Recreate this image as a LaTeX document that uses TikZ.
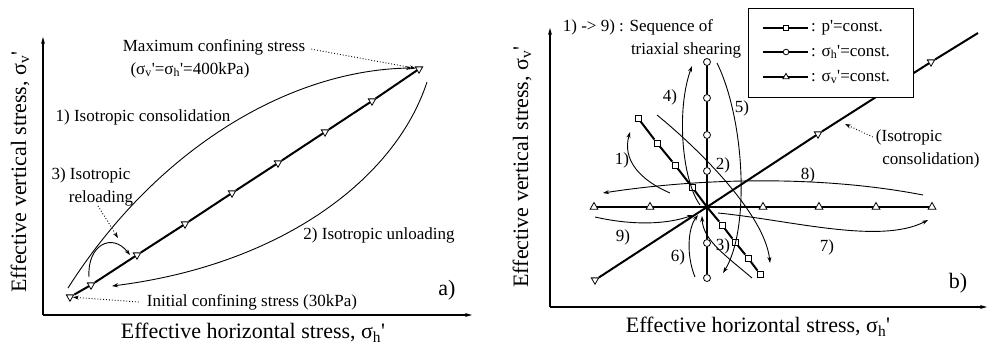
\documentclass[tikz,border=0pt]{standalone}
\usepackage{fontspec}
\setmainfont{Liberation Serif}
\usetikzlibrary{shapes.geometric, arrows.meta}
\newcommand{\sigv}{σ\textsubscript{v}\textquotesingle}
\newcommand{\sigh}{σ\textsubscript{h}\textquotesingle}
\newcommand{\bigtxt}{\fontsize{22}{26}\selectfont}
\newcommand{\smalltxt}{\fontsize{17}{20}\selectfont}
\tikzset{
  axisline/.style={line width=1.3pt, -{Stealth[length=7pt, width=4pt]}},
  mainline/.style={line width=2pt},
  legline/.style={line width=1.5pt},
  flow/.style={line width=0.9pt, -{Stealth[length=6pt, width=4pt]}},
  dotarrow/.style={line width=0.9pt, dotted, -{Stealth[length=6pt, width=4pt]}},
  tridown/.style={draw, fill=white, regular polygon, regular polygon sides=3, shape border rotate=180, minimum size=8.5pt, inner sep=0pt, line width=0.8pt},
  triup/.style={draw, fill=white, regular polygon, regular polygon sides=3, minimum size=9pt, inner sep=0pt, line width=0.8pt},
  circmark/.style={draw, fill=white, circle, minimum size=7pt, inner sep=0pt, line width=0.8pt},
  sqmark/.style={draw, fill=white, rectangle, minimum size=6pt, inner sep=0pt, line width=0.8pt}
}
\begin{document}
\begin{tikzpicture}[x=1pt, y=-1pt, every node/.style={font=\smalltxt, inner sep=0pt}]
\useasboundingbox (0,0) rectangle (988,349);

% a) isotropic loading path
\coordinate (ao) at (43,315);
\coordinate (ayend) at (43,37);
\coordinate (axend) at (472,315);
\draw[axisline] (ao) -- (ayend);
\draw[axisline] (ao) -- (axend);
\node[rotate=90, font=\bigtxt] (aylab) at (20,172) {Effective vertical stress, \sigv};
\node[font=\bigtxt] (axlab) at (253,333) {Effective horizontal stress, \sigh};

\foreach \x/\y [count=\i] in {70/297,91/285,137/255,185/224,232/193,278/163,325/132,372/101,419/69}
  \node[tridown] (a\i) at (\x,\y) {};
\foreach \i [remember=\i as \last (initially 1)] in {2,...,9}
  \draw[mainline] (a\last) -- (a\i);

\node (maxlbl) at (214,47) {Maximum confining stress};
\node (maxval) at (190,70) {(\sigv=\sigh=400kPa)};
\node (conslbl) at (143,117) {1) Isotropic consolidation};
\node (rel1) at (91,175) {3) Isotropic};
\node (rel2) at (101,198) {reloading};
\node (unlbl) at (379,235) {2) Isotropic unloading};
\node (initlbl) at (252,302) {Initial confining stress (30kPa)};
\node[font=\bigtxt] (alab) at (447,290) {a)};

\coordinate (cons0) at (68,288);
\coordinate (cons1) at (412,68);
\coordinate (unl0) at (427,82);
\coordinate (unl1) at (112,286);
\coordinate (rel0) at (89,277);
\coordinate (relend) at (130,255);
\coordinate (reltip) at (118,238);
\draw[flow] (cons0) .. controls (157,148) and (290,70) .. (cons1);
\draw[flow] (unl0) .. controls (395,180) and (280,265) .. (unl1);
\draw[flow] (rel0) .. controls (87,245) and (112,232) .. (relend);
\draw[dotarrow] ([xshift=-3pt]rel2.south) -- (reltip);
\draw[dotarrow] ([xshift=6pt, yshift=2pt]maxlbl.base east) -- (a9);
\draw[dotarrow] ([xshift=-8pt]initlbl.west) -- (a1);

% b) triaxial shearing paths
\coordinate (bo) at (550,307);
\coordinate (byend) at (550,28);
\coordinate (bxend) at (987,307);
\draw[axisline] (bo) -- (byend);
\draw[axisline] (bo) -- (bxend);
\node[rotate=90, font=\bigtxt] (bylab) at (522,167) {Effective vertical stress, \sigv};
\node[font=\bigtxt] (bxlab) at (758,327) {Effective horizontal stress, \sigh};

\coordinate (O) at (707,207);
\foreach \x [count=\i] in {594,650,763,819,876,932}
  \node[triup] (h\i) at (\x,207) {};
\foreach \y [count=\i] in {62,98,135,171,243,278}
  \node[circmark] (v\i) at (707,\y) {};
\foreach \x/\y [count=\i] in {638/118,657/143,675/165,692/187,722/225,735/242,748/258,760/274}
  \node[sqmark] (p\i) at (\x,\y) {};
\node[tridown] (d1) at (595,280) {};
\node[tridown] (d2) at (818,134) {};
\node[tridown] (d3) at (931,62) {};
\coordinate (dend) at (978,33);

\draw[mainline] (h1) -- (h2) -- (O) -- (h3) -- (h4) -- (h5) -- (h6);
\draw[mainline] (v1) -- (v2) -- (v3) -- (v4) -- (O) -- (v5) -- (v6);
\draw[mainline] (p1) -- (p2) -- (p3) -- (p4) -- (O) -- (p5) -- (p6) -- (p7) -- (p8);
\draw[mainline] (d1) -- (O) -- (d2) -- (d3) -- (dend);

\node[draw, fill=white, line width=1pt, minimum width=165pt, minimum height=89pt] (legend) at (830.5,52.5) {};
\foreach \y/\mk/\txt [count=\i] in {28/sqmark/{: p\textquotesingle=const.}, 52/circmark/{: \sigh=const.}, 77/triup/{: \sigv=const.}} {
  \coordinate (ls\i) at (763,\y);
  \coordinate (le\i) at (808,\y);
  \node[\mk, scale=0.8] (lm\i) at (786,\y) {};
  \draw[legline] (ls\i) -- (lm\i) -- (le\i);
  \node[anchor=west] (lt\i) at (811,\y) {\txt};
}

\node (seqlbl) at (638,27) {1) -> 9) : Sequence of};
\node (seqlbl2) at (686,50) {triaxial shearing};
\node (isob1) at (909,137) {(Isotropic};
\node (isob2) at (931,160) {consolidation)};
\coordinate (isotip) at (845,124);
\draw[dotarrow] ([xshift=-3pt]isob1.west) -- (isotip);
\node[font=\bigtxt] (blab) at (958,283) {b)};

\foreach \k/\x/\y in {1/622/160, 2/723/165, 3/723/246, 4/670/97, 5/742/108, 6/678/257, 7/827/247, 8/808/175, 9/623/237}
  \node (n\k) at (\x,\y) {\k)};

\coordinate (s1a) at (670,193); \coordinate (s1b) at (630,132);
\coordinate (s2a) at (657,115); \coordinate (s2b) at (770,263);
\coordinate (s3a) at (752,278); \coordinate (s3b) at (702,216);
\coordinate (s4a) at (700,205); \coordinate (s4b) at (692,66);
\coordinate (s5a) at (717,63);  \coordinate (s5b) at (723,273);
\coordinate (s6a) at (695,277); \coordinate (s6b) at (698,215);
\coordinate (s7a) at (718,213); \coordinate (s7b) at (928,220);
\coordinate (s8a) at (923,195); \coordinate (s8b) at (603,193);
\coordinate (s9a) at (595,217); \coordinate (s9b) at (693,215);
\draw[flow] (s1a) .. controls (640,180) and (622,160) .. (s1b);
\draw[flow] (s2a) .. controls (700,150) and (765,215) .. (s2b);
\draw[flow] (s3a) .. controls (725,255) and (703,240) .. (s3b);
\draw[flow] (s4a) .. controls (682,180) and (676,110) .. (s4b);
\draw[flow] (s5a) .. controls (745,120) and (750,230) .. (s5b);
\draw[flow] (s6a) .. controls (686,255) and (688,228) .. (s6b);
\draw[flow] (s7a) .. controls (790,220) and (880,245) .. (s7b);
\draw[flow] (s8a) .. controls (820,175) and (700,178) .. (s8b);
\draw[flow] (s9a) .. controls (630,225) and (665,225) .. (s9b);
\end{tikzpicture}
\end{document}
